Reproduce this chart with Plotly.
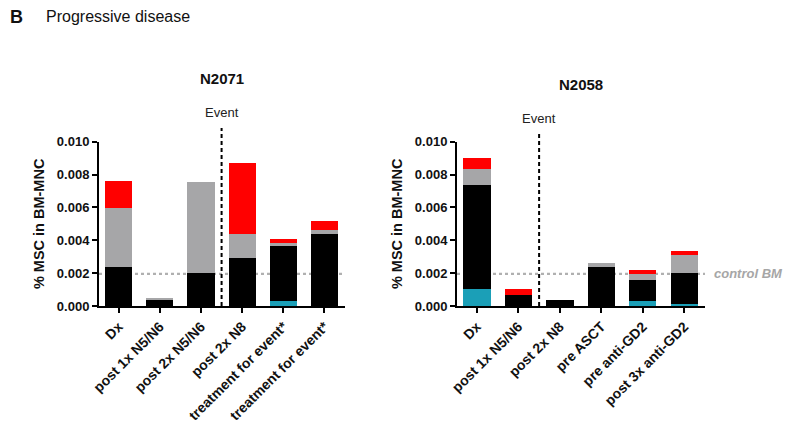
import plotly.graph_objects as go

# ---------------- data ----------------
left_title = "N2071"
left_cats = ["Dx", "post 1x N5/N6", "post 2x N5/N6", "post 2x N8",
             "treatment for event*", "treatment for event*"]
left_teal = [0.0, 0.0, 0.0, 0.0, 0.00032, 0.0]
left_black = [0.00235, 0.00040, 0.00200, 0.00290, 0.00333, 0.00438]
left_gray = [0.00359, 0.00009, 0.00553, 0.00146, 0.00020, 0.00022]
left_red = [0.00169, 0.0, 0.0, 0.00434, 0.00023, 0.00055]

right_title = "N2058"
right_cats = ["Dx", "post 1x N5/N6", "post 2x N8", "pre ASCT",
              "pre anti-GD2", "post 3x anti-GD2"]
right_teal = [0.00102, 0.0, 0.0, 0.0, 0.00028, 0.00014]
right_black = [0.00632, 0.00065, 0.00035, 0.00238, 0.00132, 0.00187]
right_gray = [0.00101, 0.0, 0.0, 0.00022, 0.00033, 0.00112]
right_red = [0.00067, 0.00040, 0.0, 0.0, 0.00024, 0.00020]

control_bm = 0.00195
left_event_pos = 2.5
right_event_pos = 1.5
y_ticks = [0.000, 0.002, 0.004, 0.006, 0.008, 0.010]

# ---------------- style ----------------
FONT = "Liberation Sans, Arial, sans-serif"
COLORS = {"teal": "#1b9fb7", "black": "#000000", "gray": "#a6a6a8", "red": "#ff0000"}
W, H = 794.0, 422.0
OFF = 8.0  # page body margin


def px(p):
    """window pixel column -> paper fraction"""
    return (p - OFF) / W


def py(p):
    """window pixel row -> paper fraction"""
    return 1 - (p - OFF) / H


fig = go.Figure()


def add_stack(cats, teal, black, gray, red, xa, ya):
    xs = list(range(len(cats)))
    for name, vals in [("teal", teal), ("black", black), ("gray", gray), ("red", red)]:
        fig.add_trace(go.Bar(
            x=xs, y=vals, xaxis=xa, yaxis=ya, width=0.66,
            marker=dict(color=COLORS[name], line=dict(width=0)),
            showlegend=False, name=name))


add_stack(left_cats, left_teal, left_black, left_gray, left_red, "x", "y")
add_stack(right_cats, right_teal, right_black, right_gray, right_red, "x2", "y2")

axis_common = dict(showline=True, linecolor="black", linewidth=2, ticks="outside",
                   ticklen=5, tickwidth=2, tickcolor="black", showgrid=False,
                   zeroline=False, automargin=False)
xfont = dict(family=FONT, size=14, color="#111111", weight="bold")
yfont = dict(family=FONT, size=13, color="#111111", weight="bold")
ytitle_font = dict(family=FONT, size=14.5, color="#111111", weight="bold")

fig.update_layout(
    width=W, height=H,
    margin=dict(l=0, r=0, t=0, b=0, autoexpand=False),
    paper_bgcolor="white", plot_bgcolor="white",
    barmode="stack", bargap=0.34,
    font=dict(family=FONT),
    xaxis=dict(domain=[px(99), px(345)], range=[-0.48, 5.5],
               tickvals=list(range(len(left_cats))), ticktext=left_cats,
               tickangle=-45, tickfont=xfont, anchor="y", **axis_common),
    yaxis=dict(domain=[py(306), py(141.7)], range=[0, 0.010], tickvals=y_ticks,
               tickformat=".3f", tickfont=yfont, anchor="x",
               title=dict(text="% MSC in BM-MNC", standoff=9, font=ytitle_font),
               **axis_common),
    xaxis2=dict(domain=[px(457), px(705)], range=[-0.48, 5.5],
                tickvals=list(range(len(right_cats))), ticktext=right_cats,
                tickangle=-45, tickfont=xfont, anchor="y2", **axis_common),
    yaxis2=dict(domain=[py(306), py(141.7)], range=[0, 0.010], tickvals=y_ticks,
                tickformat=".3f", tickfont=yfont, anchor="x2",
                title=dict(text="% MSC in BM-MNC", standoff=9, font=ytitle_font),
                **axis_common),
)

# control BM dotted lines (behind bars)
for xa, ya in [("x", "y"), ("x2", "y2")]:
    fig.add_shape(type="line", xref=xa, yref=ya, x0=-0.48, x1=5.5,
                  y0=control_bm, y1=control_bm, layer="below",
                  line=dict(color="#b0b0b0", width=2.2, dash="dot"))

# Event dashed lines (extend above plotting area)
fig.add_shape(type="line", xref="x", yref="paper", x0=left_event_pos, x1=left_event_pos,
              y0=py(306), y1=py(128), line=dict(color="black", width=2, dash="4px,3px"))
fig.add_shape(type="line", xref="x2", yref="paper", x0=right_event_pos, x1=right_event_pos,
              y0=py(306), y1=py(132), line=dict(color="black", width=2, dash="4px,3px"))

ann_font = dict(family=FONT, size=13, color="#222222")
fig.add_annotation(x=left_event_pos, y=py(113), xref="x", yref="paper", text="Event",
                   showarrow=False, yanchor="middle", font=ann_font)
fig.add_annotation(x=right_event_pos, y=py(118), xref="x2", yref="paper", text="Event",
                   showarrow=False, yanchor="middle", font=ann_font)

title_font = dict(family=FONT, size=15, color="#111111", weight="bold")
fig.add_annotation(x=2.5, y=py(78), xref="x", yref="paper", text=left_title,
                   showarrow=False, yanchor="middle", font=title_font)
fig.add_annotation(x=2.5, y=py(85), xref="x2", yref="paper", text=right_title,
                   showarrow=False, yanchor="middle", font=title_font)

# control BM label
fig.add_annotation(x=px(712), y=control_bm, xref="paper", yref="y2",
                   text="<b><i>control BM</i></b>", showarrow=False, xanchor="left",
                   yanchor="middle", font=dict(family=FONT, size=13, color="#a6a6a6"))

# panel header
fig.add_annotation(x=px(16.5), y=py(17.5), xref="paper", yref="paper", text="<b>B</b>",
                   showarrow=False, xanchor="center", yanchor="middle",
                   font=dict(family=FONT, size=18, color="#111111"))
fig.add_annotation(x=px(44), y=py(16.5), xref="paper", yref="paper",
                   text="Progressive disease", showarrow=False, xanchor="left",
                   yanchor="middle", font=dict(family=FONT, size=16, color="#111111"))

fig.write_html("out.html")
